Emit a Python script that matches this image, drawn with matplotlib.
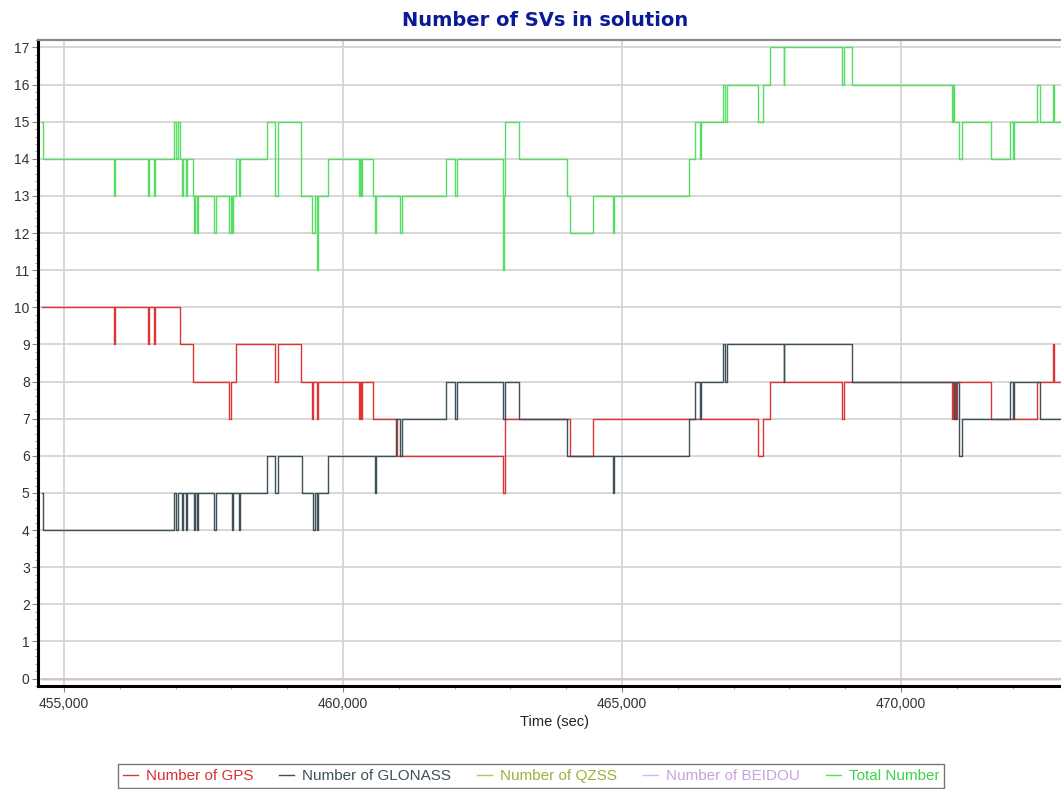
import matplotlib
matplotlib.use("Agg")
import matplotlib.pyplot as plt
from matplotlib.ticker import MultipleLocator, FuncFormatter

# --- data (change points, held until next point) ---
gps_t = [454600, 455890, 455905, 456505, 456525, 456605, 456625, 457080, 457315,
         457965, 457985, 458085, 458780, 458835, 459240, 459450, 459465, 459535,
         459550, 460285, 460300, 460320, 460335, 460540, 460960, 462870, 462895,
         464070, 464485, 467440, 467530, 467650, 468950, 468975, 470905, 470930,
         470965, 470995, 471605, 472430, 472730, 472750, 472900]
gps_v = [10, 9, 10, 9, 10, 9, 10, 9, 8,
         7, 8, 9, 8, 9, 8, 7, 8, 7,
         8, 7, 8, 7, 8, 7, 6, 5, 7,
         6, 7, 6, 7, 8, 7, 8, 7, 8,
         7, 8, 7, 8, 9, 8, 8]

glonass_t = [454600, 454630, 456970, 457015, 457045, 457120, 457140, 457180, 457205,
             457330, 457350, 457385, 457410, 457695, 457715, 458010, 458030, 458135,
             458155, 458645, 458780, 458835, 459260, 459470, 459490, 459535, 459550,
             459735, 460565, 460600, 460950, 461020, 461050, 461845, 462005, 462045,
             462865, 462900, 463160, 464010, 464840, 464855, 466205, 466300, 466395,
             466415, 466805, 466845, 466875, 467895, 467910, 469115, 470950, 470985,
             471045, 471085, 471955, 472005, 472025, 472490, 472900]
glonass_v = [5, 4, 5, 4, 5, 4, 5, 4, 5,
             4, 5, 4, 5, 4, 5, 4, 5, 4,
             5, 6, 5, 6, 5, 4, 5, 4, 5,
             6, 5, 6, 7, 6, 7, 8, 7, 8,
             7, 8, 7, 6, 5, 6, 7, 8, 7,
             8, 9, 8, 9, 8, 9, 8, 7, 8,
             6, 7, 8, 7, 8, 7, 7]

total_t = [454600, 454630, 455890, 455905, 456505, 456525, 456605, 456625, 456970,
           457015, 457045, 457080, 457120, 457140, 457180, 457205, 457315, 457330,
           457350, 457385, 457410, 457695, 457715, 457965, 457985, 458010, 458030,
           458085, 458135, 458155, 458645, 458780, 458835, 459245, 459450, 459490,
           459535, 459550, 459735, 460285, 460300, 460320, 460335, 460540, 460565,
           460600, 461020, 461050, 461845, 462005, 462045, 462865, 462880, 462910,
           463160, 464010, 464070, 464485, 464840, 464855, 466205, 466300, 466395,
           466415, 466805, 466845, 466875, 467440, 467530, 467650, 467895, 467910,
           468950, 468975, 469115, 470905, 470930, 470950, 471045, 471085, 471605,
           471955, 472005, 472025, 472430, 472490, 472730, 472750, 472900]
total_v = [15, 14, 13, 14, 13, 14, 13, 14, 15,
           14, 15, 14, 13, 14, 13, 14, 13, 12,
           13, 12, 13, 12, 13, 12, 13, 12, 13,
           14, 13, 14, 15, 13, 15, 13, 12, 13,
           11, 13, 14, 13, 14, 13, 14, 13, 12,
           13, 12, 13, 14, 13, 14, 11, 13, 15,
           14, 13, 12, 13, 12, 13, 14, 15, 14,
           15, 16, 15, 16, 15, 16, 17, 16, 17,
           16, 17, 16, 15, 16, 15, 14, 15, 14,
           15, 14, 15, 16, 15, 16, 15, 15]

qzss_t = [454600, 472900]
qzss_v = [0, 0]
beidou_t = [454600, 472900]
beidou_v = [0, 0]

TITLE_BLUE = "#0d1a96"
GRID = "#d4d4d4"
TICK_TXT = "#333333"

fig = plt.figure(figsize=(10.61, 7.89), dpi=100)
ax = fig.add_axes([38 / 1061, 103 / 789, 1 - 38 / 1061, 646 / 789])

ax.plot(qzss_t, qzss_v, drawstyle="steps-post", color="#b5c45a", lw=1.0, label="Number of QZSS")
ax.plot(beidou_t, beidou_v, drawstyle="steps-post", color="#d8b8e8", lw=1.0, label="Number of BEIDOU")
ax.plot(gps_t, gps_v, drawstyle="steps-post", color="#e03434", lw=1.0, label="Number of GPS")
ax.plot(glonass_t, glonass_v, drawstyle="steps-post", color="#3e5058", lw=1.0, label="Number of GLONASS")
ax.plot(total_t, total_v, drawstyle="steps-post", color="#55de62", lw=1.0, label="Total Number")

ax.set_xlim(454534, 472867)
ax.set_ylim(-0.2, 17.2)

ax.xaxis.set_major_locator(MultipleLocator(5000))
ax.xaxis.set_minor_locator(MultipleLocator(1000))
ax.yaxis.set_major_locator(MultipleLocator(1))
ax.yaxis.set_minor_locator(MultipleLocator(0.2))
ax.xaxis.set_major_formatter(FuncFormatter(lambda v, p: f"{int(v):,}"))

ax.grid(True, which="major", color=GRID, lw=1.3)
ax.set_axisbelow(True)

for lab in ax.get_xticklabels() + ax.get_yticklabels():
    lab.set_fontfamily("Liberation Sans")
    lab.set_fontsize(10)
    lab.set_color(TICK_TXT)
ax.tick_params(axis="both", which="major", length=4, width=0.8, color="#888888", pad=2)
ax.tick_params(axis="both", which="minor", length=2.5, width=0.6, color="#999999")
ax.tick_params(axis="x", pad=4)

ax.spines["left"].set_color("black")
ax.spines["left"].set_linewidth(2.2)
ax.spines["bottom"].set_color("black")
ax.spines["bottom"].set_linewidth(2.2)
ax.spines["top"].set_color("#8a8a8a")
ax.spines["top"].set_linewidth(1.6)
ax.spines["right"].set_visible(False)

fig.text(0.514, 0.974, "Number of SVs in solution", ha="center", va="center",
         fontsize=14, fontweight="bold", color=TITLE_BLUE, family="DejaVu Sans")
fig.text(0.523, 0.085, "Time (sec)", ha="center", va="center",
         fontsize=10.5, color="#222222", family="Liberation Sans")

handles, labels = ax.get_legend_handles_labels()
order = [2, 3, 0, 1, 4]
leg = fig.legend([handles[i] for i in order], [labels[i] for i in order],
                 loc="center", bbox_to_anchor=(0.5005, 0.0165), ncol=5,
                 prop={"family": "Liberation Sans", "size": 11},
                 handlelength=1.0, handletextpad=0.5, columnspacing=1.7,
                 frameon=True, fancybox=False, borderpad=0.3)
leg.get_frame().set_edgecolor("#555555")
leg.get_frame().set_linewidth(1.0)
text_cols = ["#d83030", "#3e5058", "#9fb03c", "#c9a2e0", "#3ed24e"]
for t, c in zip(leg.get_texts(), text_cols):
    t.set_color(c)

fig.savefig("out.png", dpi=100)
